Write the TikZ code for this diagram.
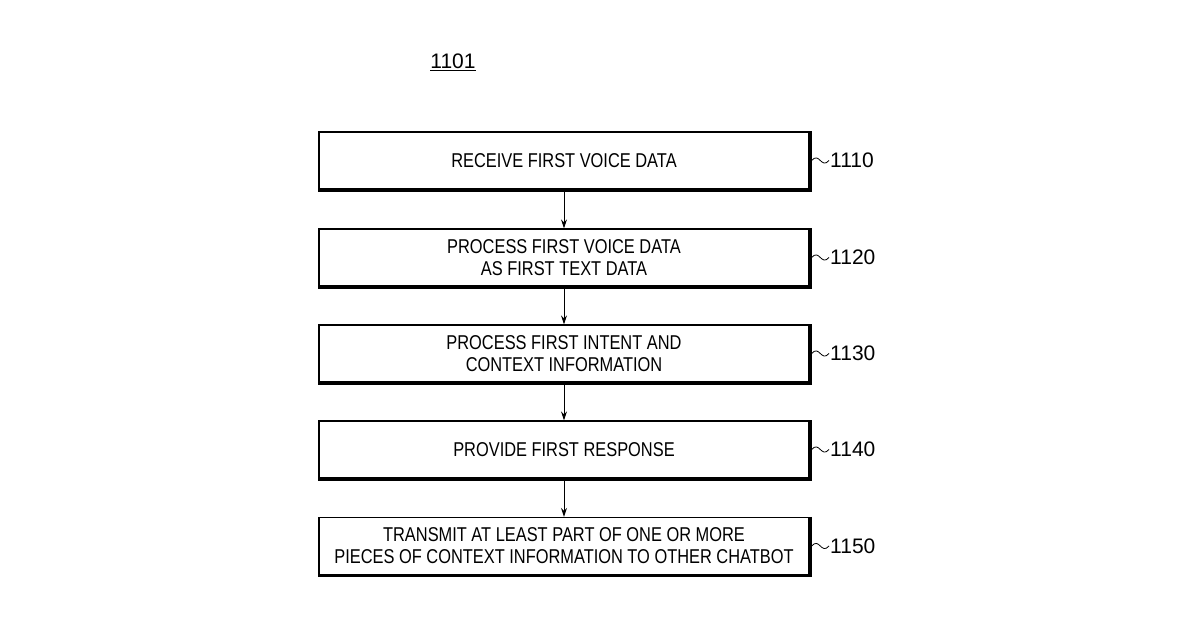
\documentclass[tikz,border=0pt]{standalone}
\usepackage{fontspec}
\usetikzlibrary{arrows.meta}
\setmainfont{Liberation Sans}
\begin{document}
\begin{tikzpicture}[x=1pt,y=-1pt,
  stepbox/.style={draw,line width=1.2pt,minimum width=490pt,minimum height=57pt,inner sep=0pt,font=\fontsize{20}{22}\selectfont,align=center},
  conn/.style={line width=1pt,-{Stealth[length=9pt,width=6pt]}},
  lbl/.style={font=\fontsize{21}{22}\selectfont,anchor=west,inner sep=0pt}]
\useasboundingbox (0,0) rectangle (1200,630);
\node (t) at (453,62) {\fontsize{21}{22}\selectfont\underline{1101}};
\foreach \n/\y/\txt/\num in {a/160.5/RECEIVE FIRST VOICE DATA/1110,
  b/257.5/{PROCESS FIRST VOICE DATA\\AS FIRST TEXT DATA}/1120,
  c/353.5/{PROCESS FIRST INTENT AND\\CONTEXT INFORMATION}/1130,
  d/449.5/PROVIDE FIRST RESPONSE/1140,
  e/546/{TRANSMIT AT LEAST PART OF ONE OR MORE\\PIECES OF CONTEXT INFORMATION TO OTHER CHATBOT}/1150}{
  \node[stepbox] (\n) at (564,\y) {\scalebox{0.82}[1]{\parbox{560pt}{\centering\txt}}};
  \draw[line width=2.5pt] ([xshift=1pt]\n.north east) -- ([xshift=1pt,yshift=-1pt]\n.south east) -- ([yshift=-1pt]\n.south west);
  \node[lbl] (\n l) at (830,\y) {\num};
  \draw[line width=0.8pt] ([xshift=2pt]\n.east) .. controls +(8,-9) and +(-8,9) .. ([xshift=-1pt]\n l.west);
}
\draw[conn] (a) -- (b);
\draw[conn] (b) -- (c);
\draw[conn] (c) -- (d);
\draw[conn] (d) -- (e);
\end{tikzpicture}
\end{document}
